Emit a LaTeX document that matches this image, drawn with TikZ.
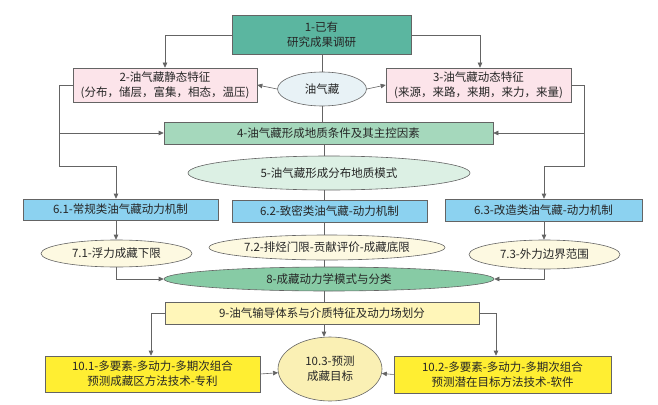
\documentclass[tikz,border=0pt]{standalone}
\usepackage{fontspec}
\setmainfont{Noto Sans CJK SC}
\usetikzlibrary{arrows.meta,shapes.geometric}
\definecolor{cTeal}{RGB}{91,182,160}
\definecolor{cPink}{RGB}{252,228,234}
\definecolor{cOqz}{RGB}{232,242,246}
\definecolor{cGreen}{RGB}{165,216,188}
\definecolor{cLGreen}{RGB}{220,240,228}
\definecolor{cBlue}{RGB}{140,210,240}
\definecolor{cCream}{RGB}{253,249,225}
\definecolor{cDGreen}{RGB}{135,203,165}
\definecolor{cLYellow}{RGB}{255,246,185}
\definecolor{cYellow}{RGB}{255,238,50}
\definecolor{cEllY}{RGB}{250,240,180}
\definecolor{cLine}{RGB}{100,100,100}
\tikzset{
  base/.style={draw=cLine,line width=0.6pt,inner sep=0pt,align=center,
    font=\fontsize{11.5}{15}\selectfont,text=black!85},
  boxx/.style={base,rectangle},
  ell/.style={base,ellipse},
  conn/.style={draw=cLine,line width=0.6pt},
  arr/.style={conn,-{Triangle[length=5pt,width=4.5pt]}},
}
\begin{document}
\begin{tikzpicture}[x=1pt,y=-1pt]
\useasboundingbox (0,0) rectangle (658,404);
% nodes
\node[boxx,fill=cTeal,minimum width=179,minimum height=39] (b1) at (321.5,34.5) {1-已有\\研究成果调研};
\node[boxx,fill=cPink,minimum width=184,minimum height=34] (b2) at (165,85) {2-油气藏静态特征\\(分布，储层，富集，相态，温压)};
\node[boxx,fill=cPink,minimum width=185,minimum height=34] (b3) at (478.5,85) {3-油气藏动态特征\\(来源，来路，来期，来力，来量)};
\node[ell,fill=cOqz,minimum width=89,minimum height=34] (oqz) at (322,89) {油气藏};
\node[boxx,fill=cGreen,minimum width=329,minimum height=22] (b4) at (328.5,133) {4-油气藏形成地质条件及其主控因素};
\node[ell,fill=cLGreen,minimum width=282,minimum height=34] (e5) at (329,173) {5-油气藏形成分布地质模式};
\node[boxx,fill=cBlue,minimum width=195,minimum height=21] (b61) at (120.5,209.5) {6.1-常规类油气藏动力机制};
\node[boxx,fill=cBlue,minimum width=195,minimum height=22] (b62) at (329.5,211) {6.2-致密类油气藏-动力机制};
\node[boxx,fill=cBlue,minimum width=197,minimum height=22] (b63) at (543.5,210) {6.3-改造类油气藏-动力机制};
\node[ell,fill=cCream,minimum width=151,minimum height=27] (e71) at (116.5,253.5) {7.1-浮力成藏下限};
\node[ell,fill=cCream,minimum width=236,minimum height=25] (e72) at (327,247.5) {7.2-排烃门限-贡献评价-成藏底限};
\node[ell,fill=cCream,minimum width=151,minimum height=29] (e73) at (544.5,254.5) {7.3-外力边界范围};
\node[ell,fill=cDGreen,minimum width=330,minimum height=24] (e8) at (329,279) {8-成藏动力学模式与分类};
\node[boxx,fill=cLYellow,minimum width=314,minimum height=22] (b9) at (322,313) {9-油气输导体系与介质特征及动力场划分};
\node[boxx,fill=cYellow,minimum width=215,minimum height=36] (b101) at (152.5,374) {10.1-多要素-多动力-多期次组合\\预测成藏区方法技术-专利};
\node[boxx,fill=cYellow,minimum width=217,minimum height=37] (b102) at (502.5,374.5) {10.2-多要素-多动力-多期次组合\\预测潜在目标方法技术-软件};
\node[ell,fill=cEllY,minimum width=104,minimum height=64] (e103) at (330,369) {10.3-预测\\成藏目标};
% helper coordinates
\coordinate (cx) at (324,0);
\coordinate (ltop) at (59,85);
\coordinate (lbot) at (59,166);
\coordinate (l61) at (116,166);
\coordinate (rtop) at (584,85);
\coordinate (rbot) at (584,166);
\coordinate (r63) at (544,166);
\coordinate (j1) at (165,35);
\coordinate (j3) at (480,35);
% connectors top
\draw[arr] (b1.west |- j1) -| (b2.north);
\draw[arr] (b1.east |- j3) -| (b3.north -| j3);
\draw[conn] (b1.south -| oqz.north) -- (oqz.north);
\draw[arr] (oqz.west) -- (b2.east);
\draw[arr] (oqz.east) -- (b3.west);
\draw[conn] (oqz.south) -- (oqz.south |- b4.north);
% left side
\draw[conn] (b2.west) -- (ltop) -- (lbot) -- (l61);
\draw[arr] (l61) -- (l61 |- b61.north);
\draw[arr] (ltop |- b4.west) -- (b4.west);
% right side
\draw[conn] (b3.east) -- (rtop) -- (rbot) -- (r63);
\draw[arr] (r63) -- (r63 |- b63.north);
\draw[arr] (rtop |- b4.east) -- (b4.east);
% central spine
\draw[conn] (cx |- b4.south) -- (cx |- e5.north);
\draw[conn] (cx |- e5.south) -- (cx |- b62.north);
\draw[conn] (cx |- b62.south) -- (cx |- e72.north);
\draw[conn] (cx |- e72.south) -- (cx |- e8.north);
\draw[conn] (cx |- e8.south) -- (cx |- b9.north);
\draw[arr] (cx |- b9.south) -- (cx |- e103.north);
% 6 -> 7
\draw[arr] (l61 |- b61.south) -- (l61 |- e71.north);
\draw[arr] (r63 |- b63.south) -- (r63 |- e73.north);
% 7 -> 8
\draw[arr] (e71.south) |- (e8.west);
\draw[arr] (e73.south) |- (e8.east);
% 9 -> 10
\draw[arr] (b9.west) -| ([xshift=-1.5pt]b101.north);
\draw[arr] (b9.east) -| ([xshift=-6.5pt]b102.north);
% 10 -> 10.3
\draw[arr] (b101.east) -- (e103);
\draw[arr] (b102.west) -- (e103);
\end{tikzpicture}
\end{document}
